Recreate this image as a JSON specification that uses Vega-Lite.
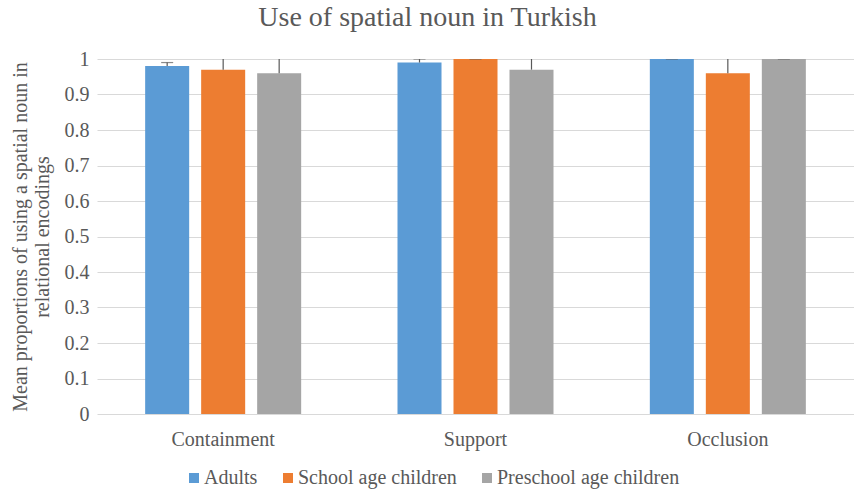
{
  "$schema": "https://vega.github.io/schema/vega-lite/v6.json",
  "autosize": {"type": "none"},
  "width": 757,
  "height": 355,
  "padding": {"left": 97, "top": 59, "right": 0, "bottom": 76},
  "title": {
    "text": "Use of spatial noun in Turkish",
    "font": "Liberation Serif",
    "fontSize": 28,
    "fontWeight": "normal",
    "color": "#595959",
    "offset": 17,
    "dx": -48
  },
  "data": {
    "values": [
      {"location": "Containment", "group": "Adults", "mean": 0.98, "upper": 0.99},
      {"location": "Containment", "group": "School age children", "mean": 0.97, "upper": 1.05},
      {"location": "Containment", "group": "Preschool age children", "mean": 0.96, "upper": 1.05},
      {"location": "Support", "group": "Adults", "mean": 0.99, "upper": 1.0},
      {"location": "Support", "group": "School age children", "mean": 1.0, "upper": 1.0},
      {"location": "Support", "group": "Preschool age children", "mean": 0.97, "upper": 1.05},
      {"location": "Occlusion", "group": "Adults", "mean": 1.0, "upper": 1.0},
      {"location": "Occlusion", "group": "School age children", "mean": 0.96, "upper": 1.05},
      {"location": "Occlusion", "group": "Preschool age children", "mean": 1.0, "upper": 1.0}
    ]
  },
  "encoding": {
    "x": {
      "field": "location",
      "type": "nominal",
      "sort": ["Containment", "Support", "Occlusion"],
      "scale": {"paddingInner": 0, "paddingOuter": 0},
      "axis": {
        "title": null,
        "labelAngle": 0,
        "labelPadding": 15,
        "ticks": false,
        "domain": false
      }
    },
    "xOffset": {
      "field": "group",
      "type": "nominal",
      "sort": ["Adults", "School age children", "Preschool age children"],
      "scale": {"paddingInner": 0.214, "paddingOuter": 0.86}
    },
    "y": {
      "field": "mean",
      "type": "quantitative",
      "scale": {"domain": [0, 1]},
      "axis": {
        "title": ["Mean proportions of using a spatial noun in", "relational encodings"],
        "titlePadding": 12,
        "titleLineHeight": 22,
        "labelPadding": 8,
        "values": [0, 0.1, 0.2, 0.3, 0.4, 0.5, 0.6, 0.7, 0.8, 0.9, 1],
        "format": ".1~f",
        "ticks": false,
        "domain": false,
        "gridColor": "#d9d9d9",
        "gridWidth": 1
      }
    }
  },
  "layer": [
    {
      "mark": {"type": "bar"},
      "encoding": {
        "color": {
          "field": "group",
          "type": "nominal",
          "sort": ["Adults", "School age children", "Preschool age children"],
          "scale": {
            "domain": ["Adults", "School age children", "Preschool age children"],
            "range": ["#5B9BD5", "#ED7D31", "#A5A5A5"]
          },
          "legend": {
            "title": null,
            "orient": "none",
            "direction": "horizontal",
            "legendX": 87,
            "legendY": 409,
            "symbolType": "square",
            "symbolSize": 100,
            "symbolStrokeWidth": 0,
            "labelOffset": 0,
            "labelLimit": 400,
            "columnPadding": 20
          }
        }
      }
    },
    {
      "mark": {"type": "rule", "color": "#595959", "strokeWidth": 1.2, "clip": true},
      "encoding": {
        "y2": {"field": "upper"}
      }
    },
    {
      "mark": {"type": "tick", "color": "#595959", "thickness": 1.2, "size": 12, "clip": true},
      "encoding": {
        "y": {"field": "upper", "type": "quantitative"}
      }
    }
  ],
  "config": {
    "font": "Liberation Serif",
    "view": {"stroke": null},
    "axis": {
      "labelFont": "Liberation Serif",
      "labelFontSize": 20,
      "labelColor": "#595959",
      "titleFont": "Liberation Serif",
      "titleFontSize": 20,
      "titleFontWeight": "normal",
      "titleColor": "#595959"
    },
    "legend": {
      "labelFont": "Liberation Serif",
      "labelFontSize": 20,
      "labelColor": "#595959"
    }
  }
}
